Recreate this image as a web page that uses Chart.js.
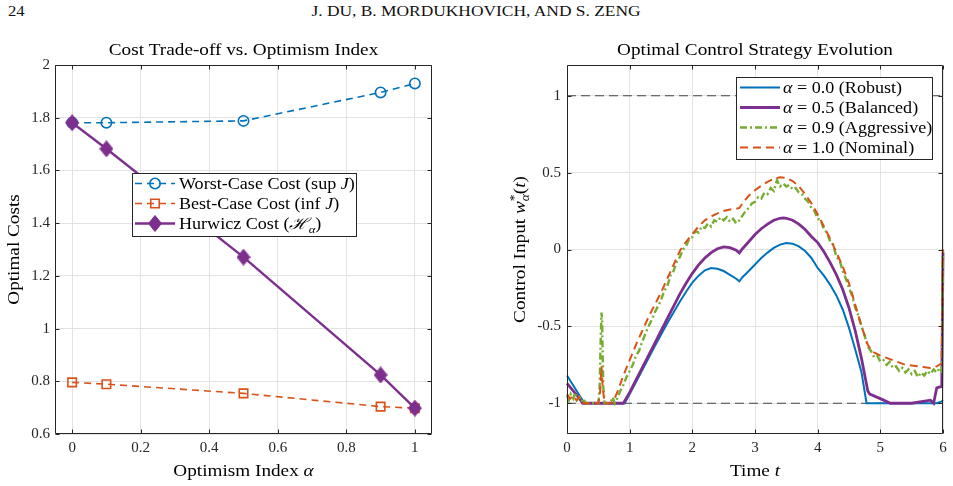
<!DOCTYPE html>
<html><head><meta charset="utf-8">
<script src="https://cdn.jsdelivr.net/npm/chart.js@4.4.1/dist/chart.umd.min.js"></script>
<style>
html,body{margin:0;padding:0;background:#fff;width:953px;height:486px;overflow:hidden;}
.hdr{position:absolute;top:3px;font:14.5px 'Liberation Serif',serif;color:#111;white-space:nowrap;}
.box{position:absolute;top:0;height:486px;}
</style></head><body>
<div class="hdr" style="left:8px;transform:scaleX(1.15);transform-origin:left center;">24</div>
<div class="hdr" style="left:0;width:953px;text-align:center;transform:scaleX(1.2);transform-origin:479px center;">J. DU, B. MORDUKHOVICH, AND S. ZENG</div>
<div class="box" style="left:0;width:476px"><canvas id="c1"></canvas></div>
<div class="box" style="left:476px;width:477px"><canvas id="c2"></canvas></div>
<script>
// ---------- data: left panel ----------
const alphaVals   = [0, 0.1, 0.5, 0.9, 1.0];
const worstCost   = [1.781, 1.781, 1.788, 1.896, 1.930];
const bestCost    = [0.796, 0.789, 0.754, 0.704, 0.698];
const hurwiczCost = [1.781, 1.682, 1.271, 0.824, 0.698];
const leftXTicks = [0, 0.2, 0.4, 0.6, 0.8, 1];
const leftXTickLabels = ['0', '0.2', '0.4', '0.6', '0.8', '1'];
const leftYTicks = [0.6, 0.8, 1, 1.2, 1.4, 1.6, 1.8, 2];
const leftYTickLabels = ['0.6', '0.8', '1', '1.2', '1.4', '1.6', '1.8', '2'];

// ---------- data: right panel ----------
const tRobust = [0, 0.1, 0.2, 0.28, 0.5, 0.92, 1.0, 1.2, 1.4, 1.5, 1.6, 1.7, 1.8, 1.9, 2.0, 2.1, 2.2, 2.3, 2.4, 2.5, 2.6, 2.7, 2.75, 2.8, 2.9, 3.0, 3.1, 3.2, 3.3, 3.4, 3.5, 3.6, 3.7, 3.8, 3.9, 4.0, 4.1, 4.2, 4.3, 4.4, 4.5, 4.6, 4.7, 4.78, 5.0, 5.5, 5.9, 5.97, 6.0];
const wRobust = [-0.82, -0.884, -0.949, -1, -1, -1, -0.94, -0.785, -0.63, -0.555, -0.48, -0.41, -0.34, -0.275, -0.215, -0.17, -0.135, -0.12, -0.125, -0.14, -0.165, -0.19, -0.207, -0.18, -0.14, -0.098, -0.055, -0.02, 0.01, 0.032, 0.042, 0.038, 0.02, -0.01, -0.055, -0.12, -0.17, -0.23, -0.3, -0.39, -0.51, -0.65, -0.8, -1, -1, -1, -1, -0.99, -0.98];

const tBalanced = [0, 0.1, 0.2, 0.25, 0.5, 0.9, 1.0, 1.2, 1.4, 1.5, 1.6, 1.7, 1.8, 1.9, 2.0, 2.1, 2.2, 2.3, 2.4, 2.5, 2.6, 2.7, 2.75, 2.8, 2.9, 3.0, 3.1, 3.2, 3.3, 3.4, 3.45, 3.5, 3.6, 3.7, 3.8, 3.9, 4.0, 4.1, 4.2, 4.3, 4.4, 4.5, 4.6, 4.7, 4.8, 4.83, 5.0, 5.16, 5.5, 5.8, 5.85, 5.9, 5.98, 6.0];
const wBalanced = [-0.87, -0.92, -0.97, -1, -1, -1, -0.93, -0.77, -0.61, -0.53, -0.45, -0.37, -0.29, -0.22, -0.155, -0.1, -0.055, -0.02, 0.005, 0.017, 0.012, -0.005, -0.022, 0.005, 0.05, 0.097, 0.135, 0.165, 0.19, 0.203, 0.205, 0.203, 0.19, 0.165, 0.13, 0.085, 0.045, -0.015, -0.085, -0.165, -0.26, -0.38, -0.53, -0.71, -0.92, -0.94, -0.97, -1, -1, -0.98, -1, -0.9, -0.89, -0.02];

const tAggressive = [0, 0.03, 0.06, 0.1, 0.13, 0.16, 0.2, 0.23, 0.26, 0.3, 0.35, 0.4, 0.45, 0.5, 0.52, 0.54, 0.55, 0.56, 0.57, 0.58, 0.6, 0.65, 0.7, 0.73, 0.76, 0.8, 0.85, 0.9, 0.95, 1.0, 1.05, 1.1, 1.15, 1.2, 1.25, 1.3, 1.35, 1.4, 1.45, 1.5, 1.55, 1.6, 1.65, 1.7, 1.75, 1.8, 1.85, 1.9, 1.95, 2.0, 2.05, 2.1, 2.15, 2.2, 2.25, 2.3, 2.35, 2.4, 2.45, 2.5, 2.55, 2.6, 2.65, 2.7, 2.75, 2.8, 2.85, 2.9, 2.95, 3.0, 3.05, 3.1, 3.15, 3.2, 3.25, 3.3, 3.35, 3.4, 3.45, 3.5, 3.55, 3.6, 3.65, 3.7, 3.75, 3.8, 3.85, 3.9, 3.95, 4.0, 4.05, 4.1, 4.15, 4.2, 4.25, 4.3, 4.35, 4.4, 4.45, 4.5, 4.55, 4.6, 4.65, 4.7, 4.75, 4.8, 4.85, 4.9, 4.95, 5.0, 5.05, 5.1, 5.15, 5.2, 5.25, 5.3, 5.35, 5.4, 5.45, 5.5, 5.55, 5.6, 5.65, 5.7, 5.75, 5.8, 5.85, 5.9, 5.95, 5.98, 6.0];
const wAggressive = [-0.95, -0.98, -0.94, -0.97, -0.93, -0.98, -0.96, -0.99, -0.97, -1, -1, -1, -1, -1, -0.9, -0.55, -0.41, -0.45, -0.7, -0.9, -1, -1, -0.99, -0.96, -1, -0.97, -0.92, -0.88, -0.83, -0.79, -0.75, -0.69, -0.66, -0.6, -0.55, -0.5, -0.46, -0.41, -0.37, -0.33, -0.27, -0.24, -0.17, -0.14, -0.08, -0.05, 0.0, 0.02, 0.07, 0.08, 0.12, 0.11, 0.15, 0.14, 0.17, 0.15, 0.19, 0.18, 0.21, 0.19, 0.21, 0.18, 0.2, 0.17, 0.19, 0.22, 0.25, 0.27, 0.3, 0.31, 0.34, 0.33, 0.37, 0.36, 0.4, 0.38, 0.45, 0.41, 0.43, 0.41, 0.42, 0.39, 0.4, 0.37, 0.36, 0.33, 0.31, 0.27, 0.25, 0.2, 0.19, 0.13, 0.11, 0.05, 0.03, -0.05, -0.07, -0.14, -0.19, -0.25, -0.3, -0.38, -0.43, -0.5, -0.56, -0.63, -0.66, -0.7, -0.69, -0.73, -0.72, -0.75, -0.73, -0.77, -0.76, -0.79, -0.77, -0.8, -0.78, -0.81, -0.79, -0.83, -0.8, -0.82, -0.79, -0.81, -0.78, -0.8, -0.77, -0.79, 0.0];

const tNominal = [0, 0.05, 0.1, 0.15, 0.2, 0.25, 0.3, 0.4, 0.5, 0.53, 0.55, 0.57, 0.6, 0.7, 0.75, 0.8, 0.9, 1.0, 1.1, 1.2, 1.3, 1.4, 1.5, 1.6, 1.7, 1.8, 1.9, 2.0, 2.1, 2.2, 2.3, 2.4, 2.5, 2.6, 2.7, 2.75, 2.8, 2.9, 3.0, 3.1, 3.2, 3.3, 3.4, 3.5, 3.6, 3.7, 3.8, 3.9, 4.0, 4.1, 4.2, 4.3, 4.4, 4.5, 4.6, 4.7, 4.8, 4.85, 4.9, 5.0, 5.2, 5.4, 5.6, 5.8, 5.9, 5.98, 6.0];
const wNominal = [-0.94, -0.97, -0.95, -0.98, -0.96, -1, -1, -1, -1, -0.92, -0.76, -0.9, -1, -1, -0.98, -0.93, -0.82, -0.72, -0.62, -0.53, -0.44, -0.36, -0.28, -0.19, -0.1, -0.01, 0.05, 0.1, 0.15, 0.19, 0.215, 0.235, 0.25, 0.26, 0.265, 0.27, 0.3, 0.35, 0.385, 0.415, 0.44, 0.46, 0.47, 0.465, 0.445, 0.41, 0.36, 0.3, 0.23, 0.15, 0.07, -0.02, -0.11, -0.22, -0.36, -0.5, -0.62, -0.65, -0.67, -0.69, -0.72, -0.75, -0.76, -0.77, -0.76, -0.74, 0.0];

const boundTimes = [0, 6];
const upperBound = [1, 1];
const lowerBound = [-1, -1];
const rightXTicks = [0, 1, 2, 3, 4, 5, 6];
const rightXTickLabels = ['0', '1', '2', '3', '4', '5', '6'];
const rightYTicks = [-1, -0.5, 0, 0.5, 1];
const rightYTickLabels = ['-1', '-0.5', '0', '0.5', '1'];

// ---------- styling ----------
const FAM = "'Liberation Serif', 'Times New Roman', serif";
const BLUE = '#0072BD', ORANGE = '#D95319', PURPLE = '#7E2F8E', GREEN = '#77AC30';
const AX = '#262626', GRID = '#e3e3e3';
const TICK_SIZE = 15;
const SX = 1.13; // horizontal stretch to imitate the wider Computer Modern glyphs

// tall diamond marker (MATLAB 'd')
function makeDiamond(w, h, color) {
  const c = document.createElement('canvas');
  c.width = w; c.height = h;
  const g = c.getContext('2d');
  g.fillStyle = color; g.strokeStyle = color; g.lineWidth = 1;
  g.beginPath();
  g.moveTo(w / 2, 0.5); g.lineTo(w - 0.5, h / 2); g.lineTo(w / 2, h - 0.5); g.lineTo(0.5, h / 2);
  g.closePath(); g.fill(); g.stroke();
  return c;
}
const diamond = makeDiamond(14, 17, PURPLE);

function xy(xs, ys) { return xs.map((x, i) => ({x: x, y: ys[i]})); }

function fontOf(s, size) {
  const sz = (s.sub || s.sup) ? size * 0.7 : size;
  return (s.i ? 'italic ' : '') + sz + 'px ' + FAM;
}
function richWidth(ctx, segs, size) {
  let w = 0;
  for (const s of segs) { ctx.font = fontOf(s, size); if (!s.noadv) w += ctx.measureText(s.t).width; }
  return w * SX;
}
function drawRich(ctx, segs, x, y, size, align) {
  const w = richWidth(ctx, segs, size);
  let cx = align === 'center' ? x - w / 2 : (align === 'right' ? x - w : x);
  ctx.save();
  ctx.translate(cx, y);
  ctx.scale(SX, 1);
  ctx.textAlign = 'left'; ctx.textBaseline = 'alphabetic';
  let px = 0;
  for (const s of segs) {
    ctx.font = fontOf(s, size);
    const dy = s.sub ? size * 0.22 : (s.sup ? -size * 0.42 : 0);
    ctx.fillText(s.t, px, dy);
    if (!s.noadv) px += ctx.measureText(s.t).width;
  }
  ctx.restore();
}

function makeDecor(cfg) {
  return {
    id: 'decor',
    afterDraw(chart) {
      const ctx = chart.ctx, a = chart.chartArea;
      const xs = chart.scales.x, ys = chart.scales.y;
      ctx.save();
      // frame + inward ticks
      ctx.strokeStyle = AX; ctx.lineWidth = 1;
      const L = Math.round(a.left) + 0.5, R = Math.round(a.right) - 0.5, T = Math.round(a.top) + 0.5, B = Math.round(a.bottom) - 0.5;
      ctx.beginPath(); ctx.rect(L, T, R - L, B - T); ctx.stroke();
      ctx.beginPath();
      for (const v of cfg.xTicks) {
        const px = Math.round(xs.getPixelForValue(v)) + 0.5;
        ctx.moveTo(px, B); ctx.lineTo(px, B - 4);
        ctx.moveTo(px, T); ctx.lineTo(px, T + 4);
      }
      for (const v of cfg.yTicks) {
        const py = Math.round(ys.getPixelForValue(v)) + 0.5;
        ctx.moveTo(L, py); ctx.lineTo(L + 4, py);
        ctx.moveTo(R, py); ctx.lineTo(R - 4, py);
      }
      ctx.stroke();
      // titles
      ctx.fillStyle = '#000';
      const cxm = (a.left + a.right) / 2;
      drawRich(ctx, cfg.title, cxm, cfg.titleY, 17, 'center');
      drawRich(ctx, cfg.xTitle, cxm, cfg.xTitleY, 17, 'center');
      ctx.save();
      ctx.translate(cfg.yTitleX, (a.top + a.bottom) / 2);
      ctx.rotate(-Math.PI / 2);
      drawRich(ctx, cfg.yTitle, 0, 0, 17, 'center');
      ctx.restore();
      // legend
      const lg = cfg.legend;
      ctx.fillStyle = '#fff';
      ctx.fillRect(lg.x, lg.y, lg.w, lg.h);
      ctx.strokeStyle = AX; ctx.lineWidth = 1;
      ctx.strokeRect(Math.round(lg.x) + 0.5, Math.round(lg.y) + 0.5, Math.round(lg.w), Math.round(lg.h));
      lg.items.forEach((it, k) => {
        const ds = chart.data.datasets[it.ds];
        const ry = lg.y + lg.row0 + k * lg.rowH;
        ctx.save();
        ctx.strokeStyle = ds.borderColor; ctx.lineWidth = ds.borderWidth;
        ctx.setLineDash(ds.borderDash || []);
        ctx.beginPath(); ctx.moveTo(lg.x + lg.lx0, ry); ctx.lineTo(lg.x + lg.lx1, ry); ctx.stroke();
        ctx.setLineDash([]);
        if (ds.pointRadius > 0) {
          ctx.strokeStyle = ds.pointBorderColor; ctx.fillStyle = ds.pointBackgroundColor;
          ctx.lineWidth = ds.pointBorderWidth;
          Chart.helpers.drawPoint(ctx, {pointStyle: ds.pointStyle, radius: ds.pointRadius, borderWidth: ds.pointBorderWidth, rotation: 0}, lg.x + (lg.lx0 + lg.lx1) / 2, ry);
        }
        ctx.restore();
        ctx.fillStyle = '#000';
        drawRich(ctx, it.text, lg.x + lg.tx, ry + 5.5, 16, 'left');
      });
      ctx.restore();
    }
  };
}

function axisCfg(min, max, ticks, labels, pad, size) {
  return {
    type: 'linear', min: min, max: max,
    afterBuildTicks: s => { s.ticks = ticks.map(v => ({value: v})); },
    ticks: {
      autoSkip: false, maxRotation: 0, padding: pad, color: AX,
      font: {family: FAM, size: TICK_SIZE},
      callback: (v, i) => labels[i]
    },
    grid: {color: GRID, lineWidth: 1, drawTicks: false},
    border: {display: false},
    afterFit: s => { if (s.isHorizontal()) s.height = size; else s.width = size; }
  };
}

Chart.defaults.font.family = FAM;

// ---------- left chart ----------
new Chart(document.getElementById('c1'), {
  type: 'line',
  data: {
    datasets: [
      {data: xy(alphaVals, worstCost), borderColor: BLUE, borderWidth: 1.6, borderDash: [7, 5],
       pointStyle: 'circle', pointRadius: 5.2, pointBorderWidth: 1.6, pointBorderColor: BLUE,
       pointBackgroundColor: 'rgba(0,0,0,0)', order: 2},
      {data: xy(alphaVals, bestCost), borderColor: ORANGE, borderWidth: 1.6, borderDash: [7, 5],
       pointStyle: 'rect', pointRadius: 6, pointBorderWidth: 1.6, pointBorderColor: ORANGE,
       pointBackgroundColor: 'rgba(0,0,0,0)', order: 1},
      {data: xy(alphaVals, hurwiczCost), borderColor: PURPLE, borderWidth: 2.4,
       pointStyle: diamond, pointRadius: 8, pointBorderWidth: 1.2, pointBorderColor: PURPLE,
       pointBackgroundColor: PURPLE, order: 0}
    ]
  },
  options: {
    responsive: true, maintainAspectRatio: false, animation: false, devicePixelRatio: 1, events: [],
    layout: {padding: {left: 0, top: 65, right: 44, bottom: 0}},
    plugins: {legend: {display: false}, tooltip: {enabled: false}, title: {display: false}},
    scales: {
      x: axisCfg(-0.05, 1.05, leftXTicks, leftXTickLabels, 5, 52),
      y: axisCfg(0.6, 2, leftYTicks, leftYTickLabels, 5, 55)
    }
  },
  plugins: [makeDecor({
    xTicks: leftXTicks, yTicks: leftYTicks,
    title: [{t: 'Cost Trade-off vs. Optimism Index'}], titleY: 55,
    xTitle: [{t: 'Optimism Index '}, {t: 'α', i: 1}], xTitleY: 476,
    yTitle: [{t: 'Optimal Costs'}], yTitleX: 19,
    legend: {x: 132, y: 173, w: 224, h: 63, row0: 10.5, rowH: 20, lx0: 3, lx1: 43, tx: 47,
      items: [
        {ds: 0, text: [{t: 'Worst-Case Cost (sup '}, {t: 'J', i: 1}, {t: ')'}]},
        {ds: 1, text: [{t: 'Best-Case Cost (inf '}, {t: 'J', i: 1}, {t: ')'}]},
        {ds: 2, text: [{t: 'Hurwicz Cost ('}, {t: 'ℋ', i: 1}, {t: 'α', i: 1, sub: 1}, {t: ')'}]}
      ]}
  })]
});

// ---------- right chart ----------
new Chart(document.getElementById('c2'), {
  type: 'line',
  data: {
    datasets: [
      {data: xy(tRobust, wRobust), borderColor: BLUE, borderWidth: 2, pointRadius: 0, order: 3, clip: false},
      {data: xy(tBalanced, wBalanced), borderColor: PURPLE, borderWidth: 2.8, pointRadius: 0, order: 2, clip: false},
      {data: xy(tAggressive, wAggressive), borderColor: GREEN, borderWidth: 2.4, borderDash: [7, 3, 2, 3], pointRadius: 0, order: 1, clip: false},
      {data: xy(tNominal, wNominal), borderColor: ORANGE, borderWidth: 2, borderDash: [8, 5], pointRadius: 0, order: 0, clip: false},
      {data: xy(boundTimes, upperBound), borderColor: '#444', borderWidth: 1, borderDash: [9, 5], pointRadius: 0, order: 4},
      {data: xy(boundTimes, lowerBound), borderColor: '#444', borderWidth: 1, borderDash: [9, 5], pointRadius: 0, order: 4}
    ]
  },
  options: {
    responsive: true, maintainAspectRatio: false, animation: false, devicePixelRatio: 1, events: [],
    layout: {padding: {left: 0, top: 65, right: 10, bottom: 0}},
    plugins: {legend: {display: false}, tooltip: {enabled: false}, title: {display: false}},
    scales: {
      x: axisCfg(0, 6, rightXTicks, rightXTickLabels, 5, 52),
      y: axisCfg(-1.2, 1.2, rightYTicks, rightYTickLabels, 6, 91)
    }
  },
  plugins: [makeDecor({
    xTicks: rightXTicks, yTicks: rightYTicks,
    title: [{t: 'Optimal Control Strategy Evolution'}], titleY: 55,
    xTitle: [{t: 'Time '}, {t: 't', i: 1}], xTitleY: 476,
    yTitle: [{t: 'Control Input '}, {t: 'w', i: 1}, {t: '*', sup: 1, noadv: 1}, {t: 'α', i: 1, sub: 1}, {t: '('}, {t: 't', i: 1}, {t: ')'}], yTitleX: 49,
    legend: {x: 260, y: 77, w: 196, h: 82, row0: 10.5, rowH: 20, lx0: 4, lx1: 44, tx: 47,
      items: [
        {ds: 0, text: [{t: 'α', i: 1}, {t: ' = 0.0 (Robust)'}]},
        {ds: 1, text: [{t: 'α', i: 1}, {t: ' = 0.5 (Balanced)'}]},
        {ds: 2, text: [{t: 'α', i: 1}, {t: ' = 0.9 (Aggressive)'}]},
        {ds: 3, text: [{t: 'α', i: 1}, {t: ' = 1.0 (Nominal)'}]}
      ]}
  })]
});
</script>
</body></html>
